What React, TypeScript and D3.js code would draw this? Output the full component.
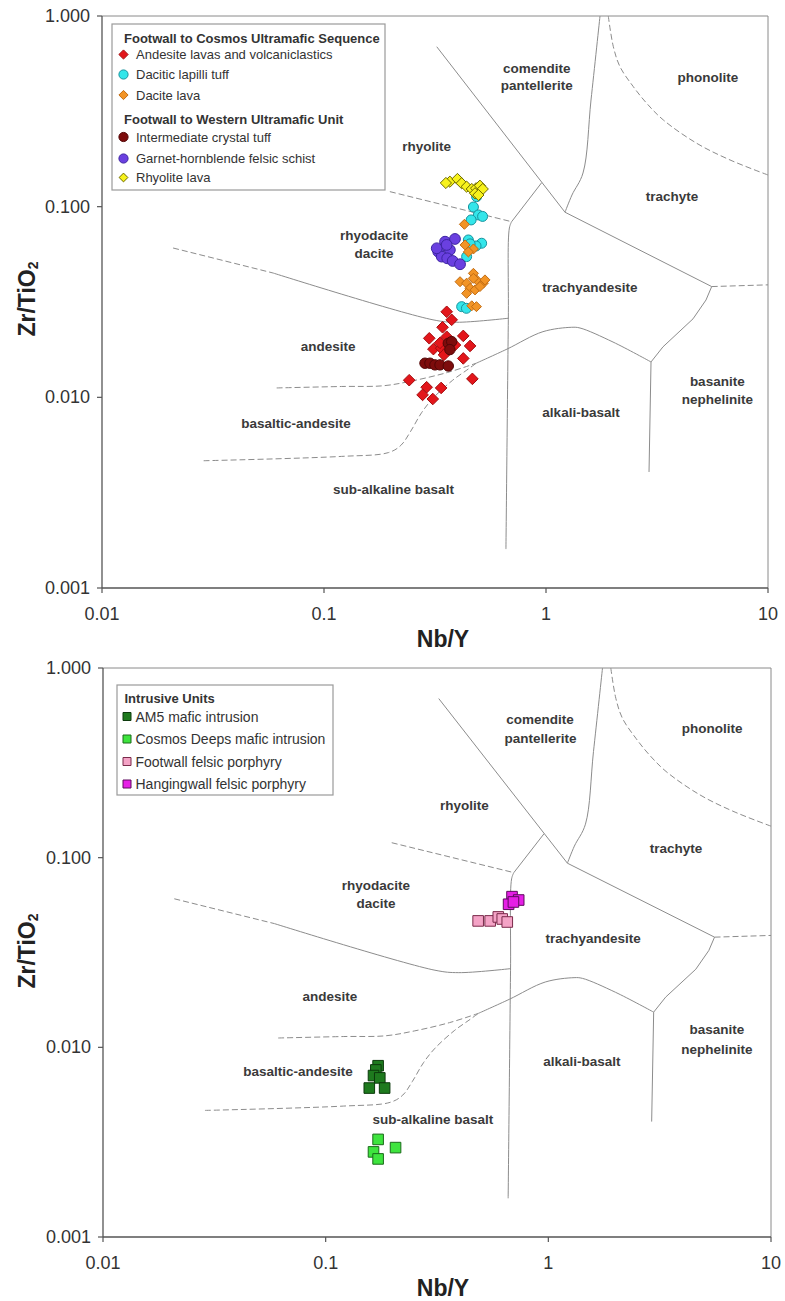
import React, { useEffect } from 'react';
import * as d3 from 'd3';

type Pt = [number, number];

// ---------------- axis ticks ----------------
const xTickValues = [0.01, 0.1, 1, 10];
const xTickLabels = ['0.01', '0.1', '1', '10'];
const yTickValues = [1, 0.1, 0.01, 0.001];
const yTickLabels = ['1.000', '0.100', '0.010', '0.001'];

// ---------------- upper diagram series (Nb/Y, Zr/TiO2) ----------------
const andesiteLavas: Pt[] = [
  [0.357, 0.0281], [0.376, 0.0255], [0.342, 0.0233], [0.298, 0.0204], [0.357, 0.0208], [0.424, 0.021],
  [0.455, 0.0186], [0.311, 0.0179], [0.337, 0.0181], [0.363, 0.0177], [0.347, 0.0167], [0.424, 0.016],
  [0.242, 0.0123], [0.29, 0.0113], [0.337, 0.0112], [0.278, 0.0103], [0.309, 0.0098], [0.466, 0.0125],
  [0.333, 0.0193], [0.389, 0.0188],
];
const daciticLapilliTuff: Pt[] = [
  [0.487, 0.1128], [0.471, 0.0996], [0.496, 0.0905], [0.518, 0.0889], [0.46, 0.0852],
  [0.447, 0.0669], [0.513, 0.0643], [0.439, 0.0547], [0.484, 0.0622], [0.455, 0.0638],
  [0.417, 0.0299], [0.438, 0.0293],
];
const daciteLava: Pt[] = [
  [0.429, 0.0808], [0.432, 0.063], [0.471, 0.06], [0.447, 0.0579],
  [0.41, 0.0404], [0.471, 0.0447], [0.439, 0.0397], [0.487, 0.0413], [0.522, 0.0397], [0.455, 0.0373],
  [0.479, 0.0366], [0.504, 0.0381], [0.439, 0.0351], [0.471, 0.0421], [0.531, 0.0413],
  [0.463, 0.0302], [0.486, 0.0299],
];
const intermediateCrystalTuff: Pt[] = [
  [0.285, 0.0151], [0.3, 0.0151], [0.316, 0.0148], [0.333, 0.0148], [0.363, 0.0146],
  [0.363, 0.0192], [0.376, 0.0196], [0.369, 0.0178],
];
const garnetHornblendeSchist: Pt[] = [
  [0.351, 0.0655], [0.389, 0.0677], [0.369, 0.0593], [0.327, 0.0581], [0.339, 0.0547],
  [0.359, 0.0536], [0.38, 0.0519], [0.41, 0.0499], [0.322, 0.0605], [0.357, 0.063],
];
const rhyoliteLava: Pt[] = [
  [0.369, 0.1352], [0.399, 0.1397], [0.417, 0.1327], [0.439, 0.1273], [0.463, 0.1238], [0.484, 0.1249],
  [0.504, 0.1288], [0.519, 0.1238], [0.479, 0.1175], [0.496, 0.1151], [0.354, 0.1331],
];

// ---------------- lower diagram series ----------------
const am5MaficIntrusion: Pt[] = [
  [0.172, 0.008], [0.168, 0.0076], [0.164, 0.0071], [0.175, 0.0069], [0.157, 0.0061], [0.184, 0.0061],
];
const cosmosDeepsMaficIntrusion: Pt[] = [
  [0.172, 0.00327], [0.206, 0.00296], [0.164, 0.00281], [0.172, 0.00258],
];
const footwallFelsicPorphyry: Pt[] = [
  [0.484, 0.0464], [0.548, 0.0464], [0.596, 0.0487], [0.621, 0.0475], [0.654, 0.0458],
];
const hangingwallFelsicPorphyry: Pt[] = [
  [0.687, 0.0623], [0.736, 0.0598], [0.663, 0.0568], [0.697, 0.0584],
];

// ---------------- classification boundaries (Nb/Y, Zr/TiO2) ----------------
const rhyoliteComendite: Pt[] = [[0.322, 0.69], [1.218, 0.0935]];
const comenditeTrachyte: Pt[] = [[1.751, 1.0], [1.595, 0.3626], [1.468, 0.1502], [1.309, 0.1151], [1.218, 0.0935]];
const trachyteTrachyandesite: Pt[] = [[1.218, 0.0935], [5.577, 0.0381]];
const trachyteEdge: Pt[] = [[5.577, 0.0381], [10, 0.0389]];
const trachyandesiteBasanite: Pt[] = [[5.577, 0.0381], [5.257, 0.0324], [4.594, 0.0258], [3.365, 0.0184], [2.972, 0.01533]];
const basaniteAlkaliBasalt: Pt[] = [[2.972, 0.01533], [2.911, 0.00406]];
const alkaliBasaltTrachyandesite: Pt[] = [[2.972, 0.01533], [2.004, 0.0195], [1.423, 0.0231], [1.305, 0.0233], [0.969, 0.0221], [0.667, 0.0179], [0.485, 0.0151]];
const subalkalineAlkaline: Pt[] = [[0.7, 0.0834], [0.684, 0.0773], [0.6765, 0.0255], [0.66, 0.0016]];
const rhyoliteRhyodacite: Pt[] = [[0.198, 0.1199], [0.7, 0.0834]];
const rhyoliteTrachyandesite: Pt[] = [[0.7, 0.0834], [0.956, 0.1336]];
const andesiteRhyodaciteDashed: Pt[] = [[0.0209, 0.0607], [0.0589, 0.0449]];
const andesiteRhyodacite: Pt[] = [[0.0589, 0.0449], [0.3097, 0.0255], [0.396, 0.02476], [0.678, 0.026]];
const andesiteBasalticAndesite: Pt[] = [[0.0612, 0.0112], [0.12, 0.0114], [0.185, 0.0115], [0.25, 0.0122], [0.36, 0.0135], [0.485, 0.0151]];
const basalticAndesiteSubalkaline: Pt[] = [[0.0287, 0.00465], [0.12, 0.0049], [0.195, 0.00513], [0.222, 0.0056], [0.245, 0.0066], [0.275, 0.0083], [0.31, 0.0099], [0.38, 0.0123], [0.44, 0.0139], [0.485, 0.0151]];
const phonoliteTrachyte: Pt[] = [[1.908, 1.0], [2.011, 0.69], [2.154, 0.542], [2.474, 0.4258], [2.842, 0.3484], [3.377, 0.2849], [4.773, 0.215], [6.743, 0.1758], [10, 0.1466]];

const boundaries: { pts: Pt[]; dashed: boolean; smooth: boolean }[] = [
  { pts: rhyoliteComendite, dashed: false, smooth: false },
  { pts: comenditeTrachyte, dashed: false, smooth: true },
  { pts: trachyteTrachyandesite, dashed: false, smooth: false },
  { pts: trachyteEdge, dashed: true, smooth: false },
  { pts: trachyandesiteBasanite, dashed: false, smooth: false },
  { pts: basaniteAlkaliBasalt, dashed: false, smooth: false },
  { pts: alkaliBasaltTrachyandesite, dashed: false, smooth: true },
  { pts: subalkalineAlkaline, dashed: false, smooth: true },
  { pts: rhyoliteRhyodacite, dashed: true, smooth: false },
  { pts: rhyoliteTrachyandesite, dashed: false, smooth: false },
  { pts: andesiteRhyodaciteDashed, dashed: true, smooth: false },
  { pts: andesiteRhyodacite, dashed: false, smooth: true },
  { pts: andesiteBasalticAndesite, dashed: true, smooth: true },
  { pts: basalticAndesiteSubalkaline, dashed: true, smooth: true },
  { pts: phonoliteTrachyte, dashed: true, smooth: true },
];

// ---------------- field names ----------------
const upperFieldNames = ['comendite', 'pantellerite', 'phonolite', 'rhyolite', 'trachyte', 'rhyodacite', 'dacite', 'trachyandesite', 'andesite', 'basaltic-andesite', 'sub-alkaline basalt', 'alkali-basalt', 'basanite', 'nephelinite'];
const upperFieldAt: Pt[] = [[0.908, 0.532], [0.908, 0.4295], [5.366, 0.4746], [0.29, 0.2063], [3.694, 0.1128], [0.168, 0.0702], [0.168, 0.0565], [1.578, 0.0378], [0.1045, 0.01845], [0.0748, 0.00725], [0.2056, 0.00327], [1.438, 0.00831], [5.909, 0.01209], [5.909, 0.0097]];
const lowerFieldNames = upperFieldNames;
const lowerFieldAt: Pt[] = [[0.917, 0.5384], [0.922, 0.426], [5.445, 0.4769], [0.4193, 0.188], [3.741, 0.1121], [0.1682, 0.0712], [0.1682, 0.057], [1.591, 0.0376], [0.1045, 0.0185], [0.0751, 0.00742], [0.3032, 0.00414], [1.416, 0.00838], [5.715, 0.01235], [5.715, 0.0097]];

// ---------------- legend texts ----------------
const upperGroupTitles = ['Footwall to Cosmos Ultramafic Sequence', 'Footwall to Western Ultramafic Unit'];
const upperSeriesNames = ['Andesite lavas and volcaniclastics', 'Dacitic lapilli tuff', 'Dacite lava', 'Intermediate crystal tuff', 'Garnet-hornblende felsic schist', 'Rhyolite lava'];
const lowerGroupTitles = ['Intrusive Units'];
const lowerSeriesNames = ['AM5 mafic intrusion', 'Cosmos Deeps mafic intrusion', 'Footwall felsic porphyry', 'Hangingwall felsic porphyry'];

type Shape = 'diamond' | 'circle' | 'square';
type Series = { name: string; data: Pt[]; shape: Shape; fill: string; stroke: string; size: number; legendSize: number };

const upperSeries: Series[] = [
  { name: upperSeriesNames[0], data: andesiteLavas, shape: 'diamond', fill: '#e3161b', stroke: '#a30c0e', size: 5.8, legendSize: 4.6 },
  { name: upperSeriesNames[1], data: daciticLapilliTuff, shape: 'circle', fill: '#33e6ea', stroke: '#17939e', size: 5, legendSize: 4.6 },
  { name: upperSeriesNames[2], data: daciteLava, shape: 'diamond', fill: '#f29426', stroke: '#c26c12', size: 5, legendSize: 4.6 },
  { name: upperSeriesNames[3], data: intermediateCrystalTuff, shape: 'circle', fill: '#7d0c0c', stroke: '#520606', size: 5.2, legendSize: 4.6 },
  { name: upperSeriesNames[4], data: garnetHornblendeSchist, shape: 'circle', fill: '#6a40e0', stroke: '#3d24a2', size: 5.4, legendSize: 4.6 },
  { name: upperSeriesNames[5], data: rhyoliteLava, shape: 'diamond', fill: '#f7f21c', stroke: '#6e6a00', size: 5.6, legendSize: 4.4 },
];
const lowerSeries: Series[] = [
  { name: lowerSeriesNames[0], data: am5MaficIntrusion, shape: 'square', fill: '#1e7a1e', stroke: '#0c3a0c', size: 5.3, legendSize: 4 },
  { name: lowerSeriesNames[1], data: cosmosDeepsMaficIntrusion, shape: 'square', fill: '#3ee43e', stroke: '#1a6a1a', size: 5.3, legendSize: 4 },
  { name: lowerSeriesNames[2], data: footwallFelsicPorphyry, shape: 'square', fill: '#f4a3c6', stroke: '#7a2a4a', size: 5.3, legendSize: 4 },
  { name: lowerSeriesNames[3], data: hangingwallFelsicPorphyry, shape: 'square', fill: '#e61ee6', stroke: '#5e0a5e', size: 5.3, legendSize: 4 },
];

type LegendRow = { kind: 'title'; text: string; dy: number } | { kind: 'item'; s: Series; dy: number };
type LegendCfg = { x: number; y: number; w: number; h: number; rows: LegendRow[]; fontSize: number; titleX: number; markerX: number; textX: number };

const upperLegend: LegendCfg = {
  x: 112, y: 24, w: 273, h: 166, fontSize: 13, titleX: 124, markerX: 123.5, textX: 136,
  rows: [
    { kind: 'title', text: upperGroupTitles[0], dy: 14 },
    { kind: 'item', s: upperSeries[0], dy: 30.5 },
    { kind: 'item', s: upperSeries[1], dy: 50.5 },
    { kind: 'item', s: upperSeries[2], dy: 71 },
    { kind: 'title', text: upperGroupTitles[1], dy: 95.5 },
    { kind: 'item', s: upperSeries[3], dy: 113 },
    { kind: 'item', s: upperSeries[4], dy: 134.5 },
    { kind: 'item', s: upperSeries[5], dy: 153.5 },
  ],
};
const lowerLegend: LegendCfg = {
  x: 117, y: 685, w: 216, h: 110, fontSize: 14, titleX: 124.5, markerX: 127, textX: 135.5,
  rows: [
    { kind: 'title', text: lowerGroupTitles[0], dy: 13.5 },
    { kind: 'item', s: lowerSeries[0], dy: 31.5 },
    { kind: 'item', s: lowerSeries[1], dy: 54 },
    { kind: 'item', s: lowerSeries[2], dy: 76.5 },
    { kind: 'item', s: lowerSeries[3], dy: 99 },
  ],
};

function Marker({ shape, s, fill, stroke, x, y }: { shape: Shape; s: number; fill: string; stroke: string; x: number; y: number }) {
  if (shape === 'circle') return <circle cx={x} cy={y} r={s} fill={fill} stroke={stroke} strokeWidth={1} />;
  const d = shape === 'diamond'
    ? `M0,${-s}L${s},0L0,${s}L${-s},0Z`
    : `M${-s},${-s}h${2 * s}v${2 * s}h${-2 * s}Z`;
  return <path transform={`translate(${x},${y})`} d={d} fill={fill} stroke={stroke} strokeWidth={1} />;
}

function Legend({ cfg }: { cfg: LegendCfg }) {
  return (
    <g>
      <rect x={cfg.x} y={cfg.y} width={cfg.w} height={cfg.h} fill="#fff" stroke="#9a9a9a" strokeWidth={1.2} />
      {cfg.rows.map((r, i) =>
        r.kind === 'title' ? (
          <text key={i} x={cfg.titleX} y={cfg.y + r.dy} dominantBaseline="central" fontSize={13} fontWeight="bold" fill="#333">{r.text}</text>
        ) : (
          <g key={i}>
            <Marker shape={r.s.shape} s={r.s.legendSize} fill={r.s.fill} stroke={r.s.stroke} x={cfg.markerX} y={cfg.y + r.dy} />
            <text x={cfg.textX} y={cfg.y + r.dy} dominantBaseline="central" fontSize={cfg.fontSize} fill="#333">{r.s.name}</text>
          </g>
        )
      )}
    </g>
  );
}

function Panel({ id, left, right, top, bottom, series, names, at, legend }: {
  id: string; left: number; right: number; top: number; bottom: number; series: Series[]; names: string[]; at: Pt[]; legend: LegendCfg;
}) {
  const xs = d3.scaleLog().domain([0.01, 10]).range([left, right]);
  const ys = d3.scaleLog().domain([0.001, 1]).range([bottom, top]);
  const straight = d3.line<Pt>().x(d => xs(d[0])).y(d => ys(d[1]));
  const smooth = d3.line<Pt>().x(d => xs(d[0])).y(d => ys(d[1])).curve(d3.curveCatmullRom.alpha(0.5));
  const clipId = `clip-${id}`;
  return (
    <g>
      <defs>
        <clipPath id={clipId}>
          <rect x={left} y={top} width={right - left} height={bottom - top} />
        </clipPath>
      </defs>
      <g clipPath={`url(#${clipId})`}>
        {boundaries.map((b, i) => (
          <path key={i} d={(b.smooth ? smooth : straight)(b.pts) || ''} fill="none" stroke="#8c8c8c" strokeWidth={1}
            strokeDasharray={b.dashed ? '6,3' : undefined} />
        ))}
      </g>
      {names.map((n, i) => (
        <text key={n + i} x={xs(at[i][0])} y={ys(at[i][1])} textAnchor="middle" dominantBaseline="central"
          fontSize={13.5} fontWeight="bold" fill="#3a3a3a">{n}</text>
      ))}
      {/* frame */}
      <line x1={left} y1={top} x2={right} y2={top} stroke="#8a8a8a" strokeWidth={1} />
      <line x1={right} y1={top} x2={right} y2={bottom} stroke="#8a8a8a" strokeWidth={1} />
      <line x1={left} y1={top} x2={left} y2={bottom} stroke="#555" strokeWidth={1.3} />
      <line x1={left} y1={bottom} x2={right} y2={bottom} stroke="#555" strokeWidth={1.3} />
      {yTickValues.map((v, i) => (
        <g key={'y' + i}>
          <line x1={left - 5} x2={left} y1={ys(v)} y2={ys(v)} stroke="#555" strokeWidth={1.2} />
          <text x={left - 12} y={ys(v)} textAnchor="end" dominantBaseline="central" fontSize={18} fill="#333">{yTickLabels[i]}</text>
        </g>
      ))}
      {xTickValues.map((v, i) => (
        <g key={'x' + i}>
          <line x1={xs(v)} x2={xs(v)} y1={bottom} y2={bottom + 5} stroke="#555" strokeWidth={1.2} />
          <text x={xs(v)} y={bottom + 26} textAnchor="middle" dominantBaseline="central" fontSize={18} fill="#333">{xTickLabels[i]}</text>
        </g>
      ))}
      {/* points */}
      {series.map((s, si) => (
        <g key={'s' + si}>
          {s.data.map((d, j) => (
            <Marker key={j} shape={s.shape} s={s.size} fill={s.fill} stroke={s.stroke} x={xs(d[0])} y={ys(d[1])} />
          ))}
        </g>
      ))}
      <Legend cfg={legend} />
      {/* axis titles */}
      <text x={443} y={bottom + 51} textAnchor="middle" dominantBaseline="central" fontSize={23} fontWeight="bold" fill="#222">Nb/Y</text>
      <text transform={`translate(35,${top + 283}) rotate(-90)`} textAnchor="middle" fontSize={23} fontWeight="bold" fill="#222">
        Zr/TiO<tspan fontSize={14} dy={3}>2</tspan>
      </text>
    </g>
  );
}

export default function App() {
  useEffect(() => {
    document.body.style.margin = '0';
  }, []);
  return (
    <svg width={785} height={1301} viewBox="0 0 785 1301"
      style={{ display: 'block', position: 'absolute', left: 0, top: 0, background: '#fff' }}
      fontFamily="'Liberation Sans', Arial, Helvetica, sans-serif">
      <rect x={0} y={0} width={785} height={1301} fill="#fff" />
      <Panel id="upper" left={102} right={768} top={16} bottom={588} series={upperSeries} names={upperFieldNames} at={upperFieldAt} legend={upperLegend} />
      <Panel id="lower" left={103} right={771} top={668} bottom={1237} series={lowerSeries} names={lowerFieldNames} at={lowerFieldAt} legend={lowerLegend} />
    </svg>
  );
}
